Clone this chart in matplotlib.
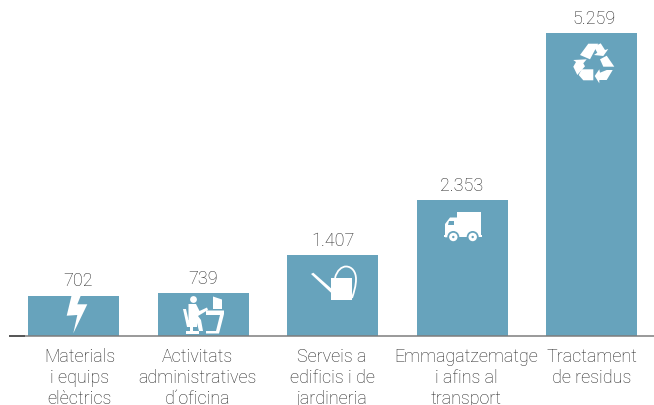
import matplotlib
matplotlib.use("Agg")
import matplotlib.pyplot as plt
from matplotlib.patches import Polygon, Circle, PathPatch
from matplotlib.path import Path
from matplotlib.transforms import Affine2D

plt.rcParams["font.family"] = ["Roboto", "DejaVu Sans"]

categories = [
    "Materials\ni equips\nelèctrics",
    "Activitats\nadministratives\nd´oficina",
    "Serveis a\nedificis i de\njardineria",
    "Emmagatzematge\ni afins al\ntransport",
    "Tractament\nde residus",
]
values = [702, 739, 1407, 2353, 5259]
value_labels = ["702", "739", "1.407", "2.353", "5.259"]

W, H = 654, 405
BAR_COLOR = "#67a3bc"
TEXT_COLOR = "#262626"
SCALE = 303 / 5259  # pixels per unit
STEP = 129.5

fig = plt.figure(figsize=(W / 100, H / 100), dpi=100)
ax = fig.add_axes([0, 0, 1, 1])
ax.set_xlim(-73.5 / STEP, (W - 73.5) / STEP)
ax.set_ylim(-(H - 336) / SCALE, 336 / SCALE)
ax.axis("off")

ax.bar(range(len(values)), values, width=91 / STEP, color=BAR_COLOR, linewidth=0)

# axis line
px = Affine2D().scale(1, -1).translate(0, H)
ax.plot([9, 654], [336, 336], color="#7d7d7d", lw=1.1, transform=px, solid_capstyle="butt")
ax.plot([9, 25], [336, 336], color="#444444", lw=1.1, transform=px, solid_capstyle="butt")

# labels are not quite centred on the bars in the original
value_shift = [4.5, 0.5, 0.5, 0, 2.5]
label_shift = [6, -5.5, -0.5, 4, 0.5]

for i, v in enumerate(values):
    ax.annotate(value_labels[i], (i, v), xytext=(value_shift[i] * 0.72, 3.8),
                textcoords="offset points", ha="center", va="bottom",
                fontsize=13, color=TEXT_COLOR, fontweight="light")
    ax.annotate(categories[i], (i, 0), xytext=(label_shift[i] * 0.72, -9),
                textcoords="offset points", ha="center", va="top",
                fontsize=12.9, color=TEXT_COLOR, linespacing=1.18,
                fontweight="light", multialignment="center")


def white(points):
    ax.add_patch(Polygon(points, closed=True, fc="white", ec="none", transform=px))


def disc(x, y, r, color="white"):
    ax.add_patch(Circle((x, y), r, fc=color, ec="none", transform=px))


# bolt
white([(71.7, 295), (81, 295), (77.3, 304.3), (87.3, 304.3), (73.3, 333.3),
       (77.3, 315), (66.7, 315.7)])

# person at desk
disc(193.5, 299.5, 3.4)
white([(188.5, 304), (196, 304), (199.5, 311), (207, 307.5), (208, 310), (198, 316),
       (201, 320), (203, 331), (199, 331), (197, 323), (188.5, 323)])
white([(183, 309), (186, 309), (188.5, 320), (197, 323), (197, 327), (187, 327)])
white([(186, 331), (199, 331), (199, 333.5), (186, 333.5)])
white([(190, 326), (193, 326), (193, 331), (190, 331)])
white([(206, 310.5), (224, 310.5), (224, 314), (219, 333.5), (206, 333.5), (206, 331),
       (216, 331), (220, 315), (206, 315)])
white([(213, 296.5), (222, 299.5), (222, 309), (213, 309)])

# watering can
white([(331, 278.3), (352, 278.3), (352, 300), (331, 300)])
white([(311, 274), (313.3, 272.7), (331, 288.3), (331, 292.7)])
ax.add_patch(PathPatch(
    Path([(335, 278), (337, 270), (342, 266.5), (346, 266.5),
          (352, 266.5), (356, 272), (356, 279),
          (356, 286), (354, 292), (352, 298)],
         [Path.MOVETO] + [Path.CURVE4] * 9),
    fc="none", ec="white", lw=1.3, transform=px))

# truck
white([(456.7, 212), (481, 212), (481, 237.3), (456.7, 237.3)])
white([(445, 237.3), (445, 224), (450, 217.5), (457, 217.5), (457, 237.3)])
white([(444, 234.5), (482, 234.5), (482, 237.3), (444, 237.3)])
ax.add_patch(Polygon([(449, 221), (454, 221), (454, 225), (447.5, 225)],
                     closed=True, fc=BAR_COLOR, ec="none", transform=px))
for cx in (453.3, 472.7):
    disc(cx, 237, 6, BAR_COLOR)
    disc(cx, 237, 4.2)
    disc(cx, 237, 1.2, BAR_COLOR)

# recycling arrows
white([(588.3, 43.7), (598.3, 43.7), (590, 59.3), (580, 55)])
white([(600.7, 43.3), (605, 50), (608.3, 49), (603.3, 56), (594, 55), (597.3, 52.7), (594, 46.7)])
white([(600, 59.3), (606.7, 55.7), (614.3, 66.7), (603.3, 66.7)])
white([(612.7, 70), (606.7, 80), (599.3, 80), (599.3, 83.3), (594.7, 76), (599.3, 69.3),
       (600, 72.7), (606.7, 70)])
white([(581.7, 69.3), (593.3, 69.3), (593.3, 80.3), (583.3, 80.3), (578.7, 75)])
white([(573.3, 60), (586.7, 59.3), (583.3, 63.3), (585, 66.3), (577.3, 75), (573.3, 66.7),
       (576, 62)])

fig.savefig("out.png", dpi=100)
